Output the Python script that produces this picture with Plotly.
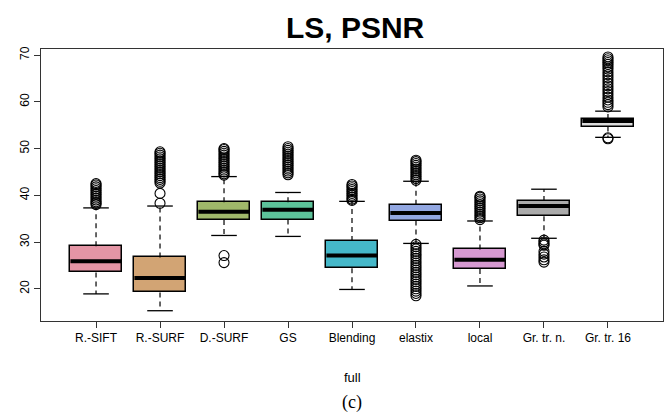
import plotly.graph_objects as go

categories = ["R.-SIFT", "R.-SURF", "D.-SURF", "GS", "Blending", "elastix", "local", "Gr. tr. n.", "Gr. tr. 16"]
lower_whisker = [18.9, 15.3, 31.4, 31.2, 19.85, 29.7, 20.6, 30.8, 52.4]
q1 = [23.5, 19.2, 34.7, 34.8, 24.4, 34.6, 24.2, 35.5, 54.7]
median = [25.9, 22.3, 36.5, 36.9, 27.1, 36.2, 26.2, 37.7, 55.9]
q3 = [29.1, 26.7, 38.5, 38.5, 30.2, 38.0, 28.4, 38.8, 56.3]
upper_whisker = [37.3, 37.7, 44.0, 40.6, 38.7, 43.0, 34.5, 41.3, 58.0]
fill_colors = ["#E495A5", "#D2A474", "#A0B86A", "#5DC29A", "#45B8C9", "#92A7E1", "#D699D1", "#ABABAB", "#DCDCDC"]

outliers = [
    [38.0, 38.3, 38.6, 39.0, 39.4, 39.8, 40.2, 40.6, 41.0, 41.4, 41.8, 42.2, 42.5],
    [38.3, 40.4, 42.6, 43.0, 43.4, 43.8, 44.2, 44.6, 45.0, 45.4, 45.8, 46.2, 46.6, 47.0, 47.4, 47.8, 48.2, 48.6, 49.0, 49.3],
    [25.6, 27.1, 44.3, 44.6, 45.0, 45.4, 45.8, 46.2, 46.6, 47.0, 47.4, 47.8, 48.2, 48.6, 49.0, 49.4, 49.8, 50.0],
    [44.4, 44.8, 45.2, 45.6, 46.0, 46.4, 46.8, 47.2, 47.6, 48.0, 48.4, 48.8, 49.2, 49.6, 50.0, 50.4],
    [38.9, 39.2, 39.6, 40.0, 40.4, 40.8, 41.2, 41.6, 42.0, 42.3],
    [43.2, 43.6, 44.0, 44.4, 44.8, 45.2, 45.6, 46.0, 46.4, 46.8, 47.2, 47.5,
     29.5, 29.0, 28.5, 28.0, 27.5, 27.0, 26.5, 26.0, 25.5, 25.0, 24.5, 24.0, 23.5, 23.0,
     22.5, 22.0, 21.5, 21.0, 20.5, 20.0, 19.5, 19.0, 18.5],
    [34.8, 35.2, 35.6, 36.0, 36.4, 36.8, 37.2, 37.6, 38.0, 38.4, 38.8, 39.2, 39.6, 39.8],
    [30.4, 30.0, 29.6, 29.3, 28.0, 27.4, 26.8, 26.2, 25.7],
    [52.3, 52.1, 58.9, 59.4, 59.9, 60.4, 61.0, 61.6, 62.2, 62.8, 63.4, 64.0, 64.6, 65.2,
     65.8, 66.4, 67.0, 67.5, 68.0, 68.4, 68.8, 69.2, 69.6],
]

BOX_W = 0.8
CAP_HALF = 0.2
xs = list(range(len(categories)))

fig = go.Figure()

# whiskers (dashed)
wx, wy = [], []
for i in xs:
    wx += [i, i, None, i, i, None]
    wy += [q3[i], upper_whisker[i], None, q1[i], lower_whisker[i], None]
fig.add_trace(go.Scatter(x=wx, y=wy, mode="lines", line=dict(color="black", width=1.2, dash="5px,4px"),
                         hoverinfo="skip", showlegend=False))

# caps
cx, cy = [], []
for i in xs:
    cx += [i - CAP_HALF, i + CAP_HALF, None, i - CAP_HALF, i + CAP_HALF, None]
    cy += [upper_whisker[i], upper_whisker[i], None, lower_whisker[i], lower_whisker[i], None]
fig.add_trace(go.Scatter(x=cx, y=cy, mode="lines", line=dict(color="black", width=1.3),
                         hoverinfo="skip", showlegend=False))

# boxes
fig.add_trace(go.Bar(x=xs, base=q1, y=[q3[i] - q1[i] for i in xs], width=BOX_W,
                     marker=dict(color=fill_colors, line=dict(color="black", width=1.5)),
                     showlegend=False))

# medians
mx, my = [], []
for i in xs:
    mx += [i - BOX_W / 2, i + BOX_W / 2, None]
    my += [median[i], median[i], None]
fig.add_trace(go.Scatter(x=mx, y=my, mode="lines", line=dict(color="black", width=4),
                         hoverinfo="skip", showlegend=False))

# outliers
ox, oy = [], []
for i in xs:
    ox += [i] * len(outliers[i])
    oy += outliers[i]
fig.add_trace(go.Scatter(x=ox, y=oy, mode="markers",
                         marker=dict(symbol="circle-open", size=10, color="black", line=dict(width=1.1)),
                         showlegend=False))

fig.update_layout(
    width=668, height=412,
    margin=dict(l=41, r=5, t=49, b=91),
    paper_bgcolor="white", plot_bgcolor="white",
    font=dict(family="Liberation Sans, Arial, sans-serif", size=12, color="black"),
    title=dict(text="<b>LS, PSNR</b>", x=0.505, xref="paper", y=1 - 27 / 412, yanchor="middle",
               xanchor="center", font=dict(size=30, color="black")),
    bargap=0,
    xaxis=dict(range=[-0.86, 8.86], tickvals=xs, ticktext=categories, ticks="outside", ticklen=6,
               tickcolor="#333", showline=True, mirror=True, linecolor="#333", linewidth=1,
               showgrid=False, zeroline=False, tickfont=dict(size=12)),
    yaxis=dict(range=[13.1, 71.3], tickvals=[20, 30, 40, 50, 60, 70], ticks="outside", ticklen=6,
               tickcolor="#333", showline=True, mirror=True, linecolor="#333", linewidth=1,
               showgrid=False, zeroline=False, tickangle=-90, tickfont=dict(size=12)),
    annotations=[
        dict(text="full", x=0.5, xref="paper", y=(321 - 377) / 272, yref="paper", showarrow=False,
             yanchor="middle", font=dict(size=13)),
        dict(text="(c)", x=0.5, xref="paper", y=(321 - 402) / 272, yref="paper", showarrow=False,
             yanchor="middle", font=dict(size=18, family="Liberation Serif, Times New Roman, serif")),
    ],
)

fig.write_html("out.html")
